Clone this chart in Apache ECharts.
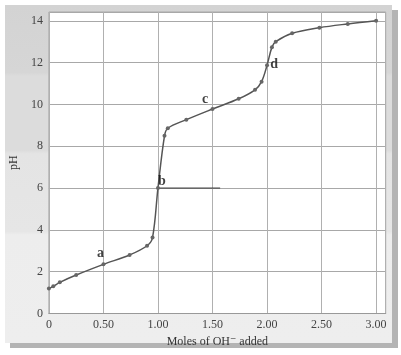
<!DOCTYPE html>
<html><head><meta charset="utf-8">
<script src="https://cdn.jsdelivr.net/npm/echarts@6/dist/echarts.min.js"></script>
<style>html,body{margin:0;padding:0;background:#fff}#c{width:401px;height:355px}</style>
</head><body><div id="c"></div>
<script>
const molesOH = [0, 0.04, 0.1, 0.25, 0.5, 0.74, 0.9, 0.95, 1.0, 1.06, 1.09, 1.26, 1.5, 1.74, 1.89, 1.95, 2.0, 2.045, 2.08, 2.23, 2.48, 2.74, 3.0];
const pH = [1.2, 1.3, 1.49, 1.84, 2.35, 2.8, 3.24, 3.63, 6.0, 8.5, 8.86, 9.27, 9.78, 10.27, 10.7, 11.09, 11.87, 12.74, 13.0, 13.4, 13.67, 13.85, 14.0];
const refLineX = [1.0, 1.57];
const refLineY = [6.0, 6.0];
const pointLabels = ['a', 'b', 'c', 'd'];
const labelX = [0.5, 1.0, 1.46, 2.02];
const labelY = [2.35, 6.0, 9.95, 11.87];
const xTicks = ['0', '0.50', '1.00', '1.50', '2.00', '2.50', '3.00'];
const yTicks = ['0', '2', '4', '6', '8', '10', '12', '14'];

const chart = echarts.init(document.getElementById('c'), null, {renderer: 'canvas'});
const serif = '"Liberation Serif", "DejaVu Serif", serif';
const labelPos = [[-3, -11], [4, -7], [-3, -6], [5, -1]];
chart.setOption({
  animation: false,
  graphic: [
    {type: 'rect', shape: {x: 10, y: 10, width: 388, height: 338}, style: {fill: '#b4b4b4'}, z: -10},
    {type: 'rect', shape: {x: 5, y: 5, width: 387, height: 338},
      style: {fill: new echarts.graphic.LinearGradient(0, 0, 0, 1, [
        {offset: 0, color: '#d3d3d3'}, {offset: 0.2, color: '#d6d6d6'},
        {offset: 0.21, color: '#dcdcdc'}, {offset: 0.43, color: '#dcdcdc'},
        {offset: 0.44, color: '#e4e4e4'}, {offset: 0.67, color: '#e6e6e6'},
        {offset: 0.68, color: '#ededed'}, {offset: 1, color: '#eeeeee'}])}, z: -9}
  ],
  grid: {left: 45.7, right: 15.3, top: 12, bottom: 41.5, show: true, backgroundColor: '#fff', borderColor: '#a8a8a8', borderWidth: 1},
  xAxis: {
    type: 'value', min: 0, max: 3.088, interval: 0.5,
    name: 'Moles of OH\u207B added', nameLocation: 'middle', nameGap: 20,
    nameTextStyle: {fontFamily: serif, fontSize: 12, color: '#333'},
    axisLine: {show: true, lineStyle: {color: '#999'}}, axisTick: {show: false},
    axisLabel: {fontFamily: serif, fontSize: 12, color: '#444', margin: 5, showMaxLabel: false,
      formatter: v => { const i = Math.round(v / 0.5); return Math.abs(v - i * 0.5) < 1e-6 ? xTicks[i] : ''; }},
    splitLine: {show: true, lineStyle: {color: '#b0b0b0', width: 1}}
  },
  yAxis: {
    type: 'value', min: 0, max: 14.42, interval: 2,
    name: 'pH', nameLocation: 'middle', nameGap: 21, nameRotate: 90,
    nameTextStyle: {fontFamily: serif, fontSize: 12, color: '#333'},
    axisLine: {show: false}, axisTick: {show: false},
    axisLabel: {fontFamily: serif, fontSize: 12, color: '#444', margin: 6, showMaxLabel: false,
      formatter: v => { const i = Math.round(v / 2); return Math.abs(v - i * 2) < 1e-6 ? yTicks[i] : ''; }},
    splitLine: {show: true, lineStyle: {color: '#a8a8a8', width: 1}}
  },
  series: [
    {type: 'line', data: refLineX.map((x, i) => [x, refLineY[i]]), symbol: 'none',
      lineStyle: {color: '#333', width: 1}, z: 3},
    {type: 'line', data: molesOH.map((x, i) => [x, pH[i]]), smooth: 0.35,
      symbol: 'circle', symbolSize: 4, showAllSymbol: true,
      itemStyle: {color: '#666'}, lineStyle: {color: '#555', width: 1.5}, z: 4},
    {type: 'scatter', data: labelX.map((x, i) => ({value: [x, labelY[i]],
        label: {show: true, formatter: pointLabels[i], position: 'inside', offset: labelPos[i]}})),
      symbolSize: 1, itemStyle: {color: 'rgba(0,0,0,0)'},
      label: {fontFamily: serif, fontWeight: 'bold', fontSize: 14, color: '#111'}, z: 5}
  ]
});
</script></body></html>
